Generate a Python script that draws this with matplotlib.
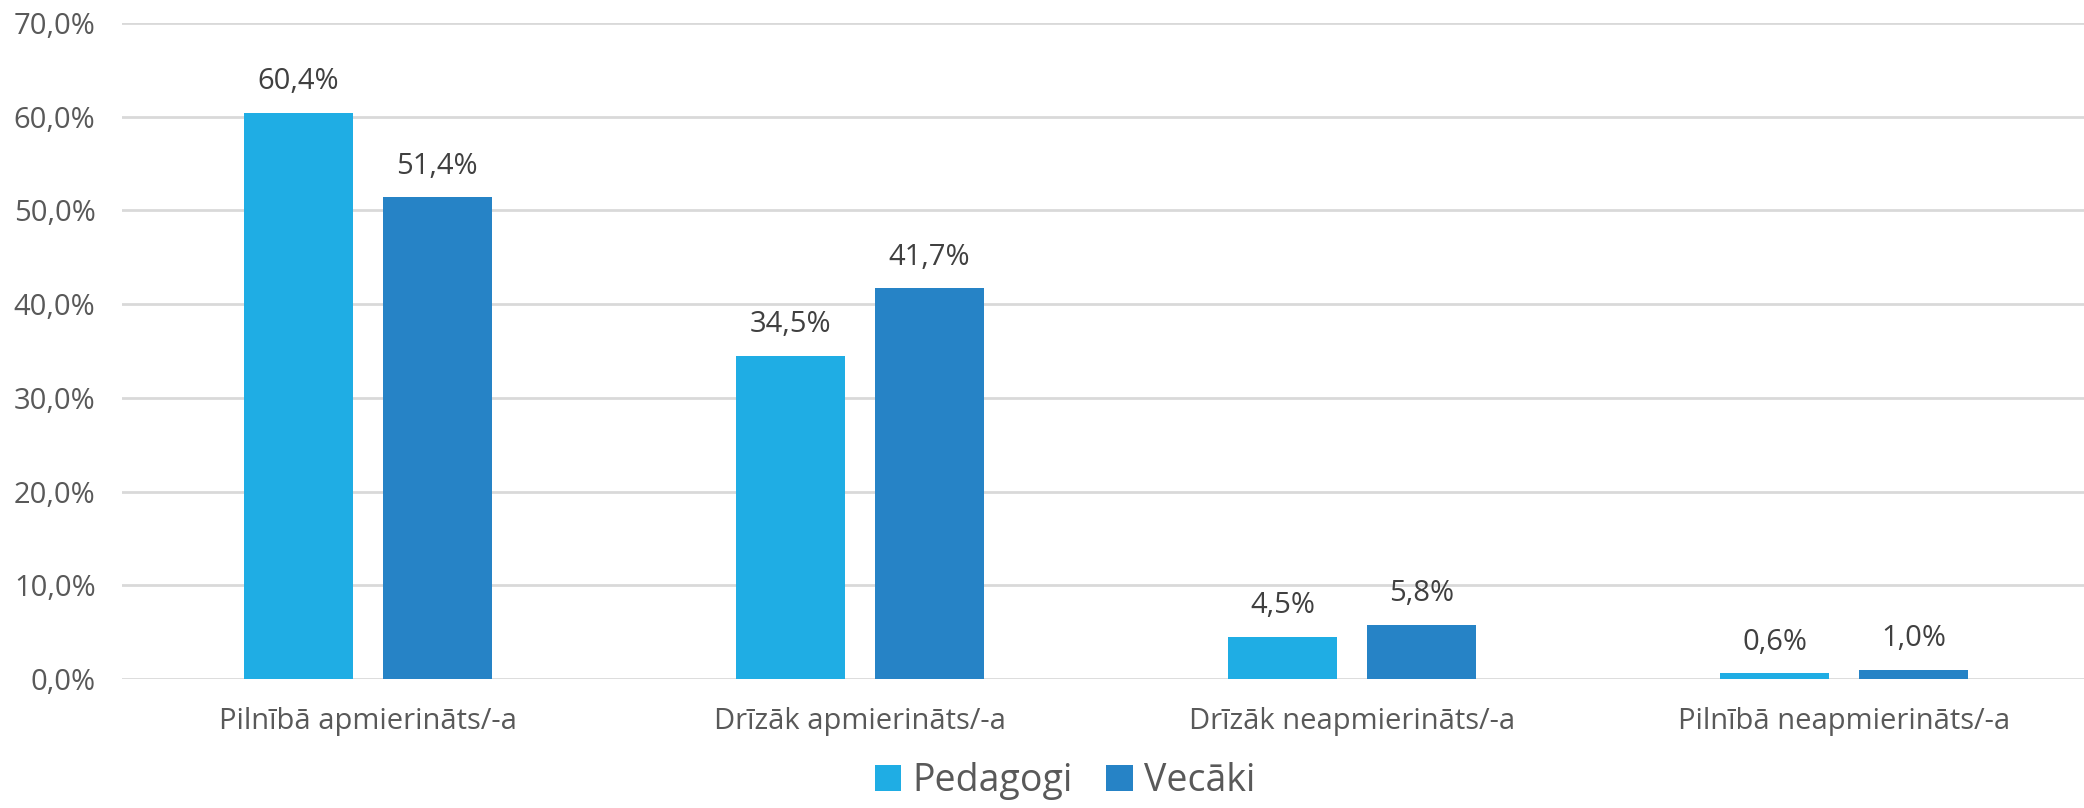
import matplotlib.pyplot as plt
import numpy as np

# Data
categories = ['Pilnībā apmierināts/-a', 'Drīzāk apmierināts/-a',
              'Drīzāk neapmierināts/-a', 'Pilnībā neapmierināts/-a']
pedagogi = [60.4, 34.5, 4.5, 0.6]
vecaki = [51.4, 41.7, 5.8, 1.0]
series_names = ['Pedagogi', 'Vecāki']
y_ticks = [0, 10, 20, 30, 40, 50, 60, 70]

plt.rcParams['font.family'] = ['Open Sans', 'DejaVu Sans']

fig = plt.figure(figsize=(20.84, 8.08), dpi=100)
ax = fig.add_axes([122 / 2084, 1 - 679 / 808, 1968 / 2084, 656 / 808])

x = np.arange(len(categories))
width = 0.222
offset = 0.141
colors = ['#1FADE4', '#2683C6']

bars1 = ax.bar(x - offset, pedagogi, width, color=colors[0], label=series_names[0], zorder=3)
bars2 = ax.bar(x + offset, vecaki, width, color=colors[1], label=series_names[1], zorder=3)

for bars in (bars1, bars2):
    for b in bars:
        h = b.get_height()
        ax.annotate(f"{h:.1f}%".replace('.', ','),
                    (b.get_x() + b.get_width() / 2, h),
                    xytext=(0, 12), textcoords='offset points',
                    ha='center', va='bottom', fontsize=21, color='#404040')

ax.set_xlim(-0.5, len(categories) - 0.5)
ax.set_ylim(0, 70)
ax.set_yticks(y_ticks)
ax.set_yticklabels([f"{t:.1f}%".replace('.', ',') for t in y_ticks])
ax.set_xticks(x)
ax.set_xticklabels(categories)

ax.grid(axis='y', color='#D9D9D9', linewidth=2, zorder=0)
for side in ['top', 'right', 'left', 'bottom']:
    ax.spines[side].set_visible(False)
ax.tick_params(axis='both', length=0, labelsize=21, colors='#595959')
ax.tick_params(axis='x', pad=20)
ax.tick_params(axis='y', pad=19)

# legend kept just inside the bottom edge
leg = fig.legend(loc='lower center', bbox_to_anchor=(0.511, -0.032), ncol=2, frameon=False,
                 fontsize=27, handlelength=0.7, handleheight=0.7, handletextpad=0.3,
                 columnspacing=0.9)
for t in leg.get_texts():
    t.set_color('#595959')

fig.savefig('out.png', dpi=100, facecolor='white')
